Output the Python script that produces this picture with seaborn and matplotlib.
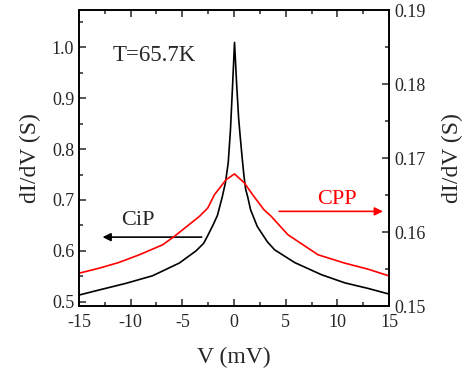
import numpy as np
import pandas as pd
import matplotlib
matplotlib.use("Agg")
import matplotlib.pyplot as plt
import seaborn as sns
from matplotlib.ticker import MultipleLocator

# CiP data (left axis)
V_cip = [-15, -13.06, -10.47, -7.88, -5.29, -3.67, -2.93, -2.54, -2.0, -1.6, -1.15, -0.83, -0.56,
         -0.34, -0.15, 0.05, 0.25, 0.45, 0.6, 0.78, 0.95, 1.12, 1.34, 1.6, 2.25, 3.22, 3.93, 5.87,
         8.47, 10.73, 12.99, 15.0]
G_cip = [0.513, 0.523, 0.536, 0.551, 0.576, 0.600, 0.615, 0.630, 0.652, 0.670, 0.705, 0.734, 0.773,
         0.839, 0.920, 1.010, 0.930, 0.860, 0.825, 0.785, 0.750, 0.722, 0.705, 0.681, 0.648, 0.618,
         0.602, 0.577, 0.553, 0.537, 0.526, 0.515]

# CPP data (right axis)
V_cpp = [-15, -13.06, -11.17, -9.17, -6.91, -5.78, -4.64, -3.35, -2.54, -1.89, -0.76, 0.05,
         1.0, 1.92, 2.89, 3.61, 4.19, 5.22, 8.14, 10.73, 12.99, 15.0]
G_cpp = [0.15443, 0.15511, 0.15587, 0.15692, 0.15827, 0.1594, 0.16067, 0.16211, 0.16324, 0.16505,
         0.16708, 0.16785, 0.16664, 0.16482, 0.16302, 0.16211, 0.16121, 0.15963, 0.15692, 0.15579,
         0.15497, 0.15407]

x_ticks = [-15, -10, -5, 0, 5, 10, 15]
left_ticks = [0.5, 0.6, 0.7, 0.8, 0.9, 1.0]
right_ticks = [0.15, 0.16, 0.17, 0.18, 0.19]

sns.set_style("ticks")
plt.rcParams['font.family'] = ['Liberation Serif', 'DejaVu Serif']

fig = plt.figure(figsize=(4.66, 3.72), dpi=100)
ax = fig.add_axes([0.1695, 0.1774, 0.6653, 0.7956])
ax2 = ax.twinx()

df1 = pd.DataFrame({"V": V_cip, "G": G_cip})
df2 = pd.DataFrame({"V": V_cpp, "G": G_cpp})
sns.lineplot(data=df1, x="V", y="G", ax=ax, color="black", lw=1.2, sort=False)
sns.lineplot(data=df2, x="V", y="G", ax=ax2, color="red", lw=1.2, sort=False)

ax.set_xlim(-15, 15)
ax.set_ylim(0.4915, 1.0736)
ax2.set_ylim(0.15, 0.19)

ax.set_xticks(x_ticks)
ax.set_xticklabels([f"{t}" for t in x_ticks])
ax.set_yticks(left_ticks)
ax.set_yticklabels([f"{t:.1f}" for t in left_ticks])
ax2.set_yticks(right_ticks)
ax2.set_yticklabels([f"{t:.2f}" for t in right_ticks])
ax.xaxis.set_minor_locator(MultipleLocator(2.5))
ax.yaxis.set_minor_locator(MultipleLocator(0.05))
ax2.yaxis.set_minor_locator(MultipleLocator(0.005))

ax.tick_params(axis='x', which='both', direction='in', top=True, bottom=True, labelsize=13, width=1.1, pad=6)
ax.tick_params(axis='x', which='major', length=5)
ax.tick_params(axis='x', which='minor', length=3)
ax.tick_params(axis='y', which='both', direction='in', left=True, right=False, labelsize=13, width=1.1)
ax.tick_params(axis='y', which='major', length=5)
ax.tick_params(axis='y', which='minor', length=3)
ax2.tick_params(axis='y', which='both', direction='in', right=True, labelsize=13, width=1.1)
ax2.tick_params(axis='y', which='major', length=5)
ax2.tick_params(axis='y', which='minor', length=3)

for a in (ax, ax2):
    for s in a.spines.values():
        s.set_linewidth(1.2)
        s.set_visible(True)
        s.set_color("black")

ax.set_xlabel("V (mV)", fontsize=17, labelpad=11)
ax.set_ylabel("dI/dV (S)", fontsize=17, labelpad=8)
ax2.set_ylabel("dI/dV (S)", fontsize=17, labelpad=12)

ax.text(-7.7, 0.973, "T=65.7K", fontsize=16.5, ha="center", va="baseline")
ax.text(-9.35, 0.651, "CiP", fontsize=16, ha="center", va="baseline")
ax2.text(10.0, 0.16383, "CPP", fontsize=16, ha="center", va="baseline", color="red")

ax.annotate("", xy=(-12.99, 0.627), xytext=(-2.86, 0.627),
            arrowprops=dict(arrowstyle="-|>", color="black", lw=1.2, mutation_scale=12))
ax2.annotate("", xy=(14.68, 0.16279), xytext=(4.1, 0.16279),
             arrowprops=dict(arrowstyle="-|>", color="red", lw=1.2, mutation_scale=12))

fig.savefig("out.png", dpi=100)
